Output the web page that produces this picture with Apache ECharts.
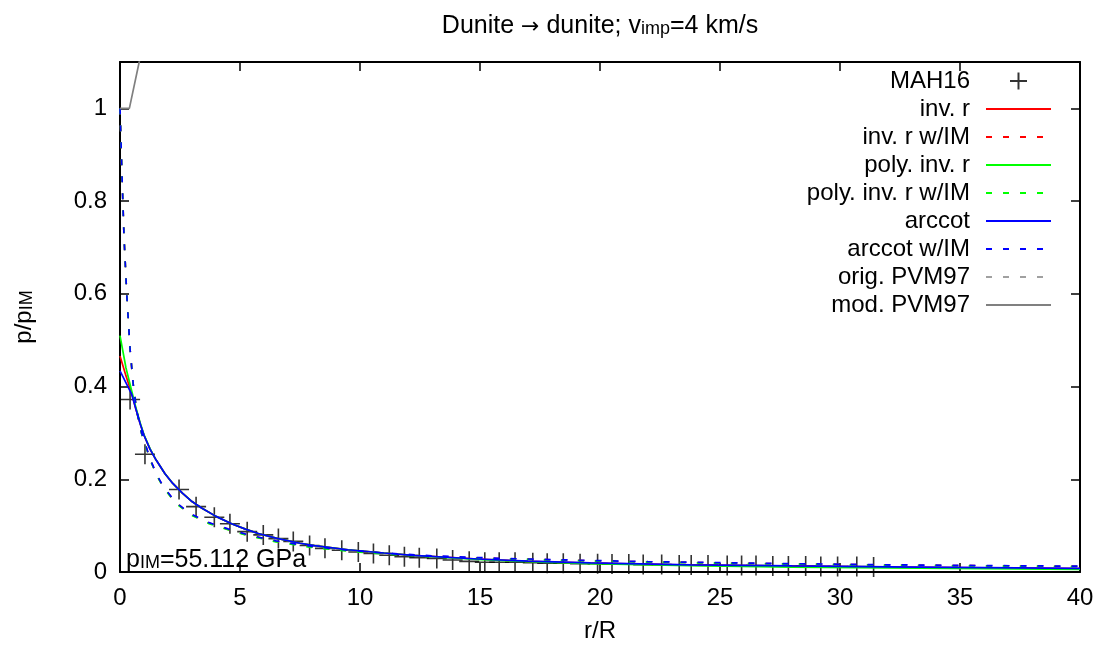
<!DOCTYPE html>
<html><head><meta charset="utf-8">
<script src="https://cdn.jsdelivr.net/npm/echarts@6/dist/echarts.min.js"></script>
<style>html,body{margin:0;padding:0;background:#fff}#c{width:1099px;height:648px}</style>
</head><body><div id="c"></div>
<script>
const FONT = '"Liberation Sans", Arial, Helvetica, sans-serif';

// ---- data ----
const xTickInterval = 5;
const yTickInterval = 0.2;

// MAH16 crosses
const mah16R = [0.42,1.04,2.46,3.17,3.93,4.58,5.3,5.97,6.6,7.22,7.9,8.54,9.24,9.93,10.56,11.22,11.85,12.47,13.2,13.86,14.55,15.2,15.8,16.46,17.2,17.8,18.47,19.17,19.9,20.5,21.2,21.8,22.57,23.3,23.8,24.5,25.3,25.9,26.5,27.2,27.85,28.57,29.2,29.9,30.7,31.4];
const mah16P = [0.372,0.254,0.178,0.141,0.118,0.104,0.087,0.080,0.072,0.066,0.057,0.051,0.047,0.043,0.040,0.036,0.033,0.031,0.029,0.026,0.023,0.021,0.021,0.021,0.020,0.019,0.019,0.018,0.018,0.017,0.017,0.016,0.016,0.015,0.015,0.015,0.014,0.014,0.014,0.013,0.013,0.013,0.012,0.012,0.012,0.011];

// solid fits (no impact match)
const solidR  = [0,0.25,0.49,0.67,0.85,1.0,1.25,1.5,1.875,2.2,2.6,3.0,3.4,4.0,4.65,5.2,5.76,6.5,7.5,8.1,9.5,11,12.2,14.9,17,19.6,23.75,28,32,36,40];
const invR    = [0.466,0.423,0.385,0.35,0.318,0.295,0.265,0.242,0.212,0.191,0.17,0.152,0.138,0.12,0.104,0.093,0.083,0.073,0.062,0.057,0.048,0.041,0.036,0.028,0.023,0.019,0.015,0.0125,0.0107,0.009,0.0073];
const polyInvR= [0.51,0.44,0.39,0.353,0.32,0.296,0.266,0.242,0.212,0.191,0.17,0.152,0.138,0.12,0.104,0.093,0.083,0.073,0.062,0.057,0.048,0.041,0.036,0.027,0.0225,0.018,0.0135,0.0105,0.0087,0.0071,0.0057];
const arccot  = [0.434,0.408,0.383,0.35,0.318,0.295,0.265,0.242,0.212,0.191,0.17,0.152,0.138,0.12,0.104,0.093,0.083,0.073,0.062,0.057,0.048,0.041,0.036,0.028,0.0235,0.0195,0.0155,0.013,0.0112,0.0095,0.0078];

// dashed fits (with impact match)
const imR = [0,0.03,0.08,0.17,0.28,0.35,0.42,0.56,0.69,0.9,1.18,1.32,1.55,1.8,2.29,2.92,3.68,4.5,5.35,6.5,8,9.5,11,13,15,16,19,22,24.4,28,32,36,40];
const invRIM    = [1.0,0.95,0.86,0.72,0.60,0.54,0.48,0.40,0.349,0.299,0.255,0.235,0.207,0.184,0.151,0.125,0.106,0.092,0.079,0.066,0.054,0.046,0.040,0.034,0.030,0.0288,0.025,0.0218,0.020,0.0175,0.015,0.0134,0.012];
const polyInvRIM= [1.0,0.95,0.86,0.72,0.60,0.54,0.48,0.40,0.348,0.298,0.254,0.234,0.206,0.183,0.150,0.124,0.105,0.091,0.078,0.065,0.053,0.045,0.039,0.033,0.029,0.0283,0.0245,0.0213,0.0195,0.017,0.0145,0.013,0.0115];
const arccotIM  = [1.0,0.95,0.86,0.72,0.60,0.54,0.48,0.40,0.35,0.30,0.256,0.236,0.208,0.185,0.152,0.126,0.107,0.093,0.080,0.067,0.055,0.047,0.041,0.035,0.031,0.0293,0.0255,0.0223,0.0205,0.018,0.0155,0.0139,0.0125];

// PVM97
const origPvmR = [];
const origPvmP = [];
const modPvmR = [0,0.39,0.8,1.2];
const modPvmP = [1,1,1.1,1.2];

// ---- chart ----
function pairs(xs, ys){ return xs.map((x,i)=>[x, ys[i]]); }
const DASH = [6, 11];

function lineSeries(name, xs, ys, color, dashed){
  return {
    name, type:'line', data: pairs(xs, ys), symbol:'none', showSymbol:false,
    smooth:false, clip:true,
    lineStyle:{color, width:1.7, type: dashed ? DASH : 'solid'},
    itemStyle:{color}, emphasis:{disabled:true}
  };
}

const axisLineStyle = {color:'#000', width:2};
const tickStyle = {color:'#000', width:1.5};
const labelStyle = {fontSize:24, color:'#000', fontFamily:FONT};
const legendNames = ['MAH16','inv. r','inv. r w/IM','poly. inv. r','poly. inv. r w/IM','arccot','arccot w/IM','orig. PVM97','mod. PVM97'];

const chart = echarts.init(document.getElementById('c'), null, {renderer:'canvas'});
chart.setOption({
  animation:false,
  backgroundColor:'#fff',
  grid:{left:120, right:19, top:62, bottom:71, containLabel:false},
  xAxis:[
    {type:'value', min:0, max:40, interval:xTickInterval, position:'bottom',
     axisLine:{show:true, onZero:false, lineStyle:axisLineStyle},
     axisTick:{show:true, inside:true, length:9, lineStyle:tickStyle},
     axisLabel:Object.assign({margin:14}, labelStyle),
     splitLine:{show:false},
     name:'r/R', nameLocation:'middle', nameGap:47,
     nameTextStyle:{fontSize:24, color:'#000', fontFamily:FONT}},
    {type:'value', min:0, max:40, interval:xTickInterval, position:'top',
     axisLine:{show:true, onZero:false, lineStyle:axisLineStyle},
     axisTick:{show:true, inside:true, length:9, lineStyle:tickStyle},
     axisLabel:{show:false}, splitLine:{show:false}}
  ],
  yAxis:[
    {type:'value', min:0, max:1.1, interval:yTickInterval, position:'left',
     axisLine:{show:true, onZero:false, lineStyle:axisLineStyle},
     axisTick:{show:true, inside:true, length:9, lineStyle:tickStyle},
     axisLabel:Object.assign({margin:13, showMaxLabel:false}, labelStyle),
     splitLine:{show:false},
     name:'{a|p/p}{s|IM}', nameLocation:'middle', nameGap:84,
     nameTextStyle:{fontSize:24, color:'#000', fontFamily:FONT,
       rich:{a:{fontSize:24, lineHeight:24, verticalAlign:'top', fontFamily:FONT, color:'#000'},
             s:{fontSize:18, lineHeight:12, verticalAlign:'bottom', fontFamily:FONT, color:'#000'}}}},
    {type:'value', min:0, max:1.1, interval:yTickInterval, position:'right',
     axisLine:{show:true, onZero:false, lineStyle:axisLineStyle},
     axisTick:{show:true, inside:true, length:9, lineStyle:tickStyle},
     axisLabel:{show:false}, splitLine:{show:false}}
  ],
  legend:{
    orient:'vertical', right:47, top:67, align:'right', padding:0,
    itemWidth:65, itemHeight:17, itemGap:0, selectedMode:false,
    textStyle:{fontSize:24, color:'#000', fontFamily:FONT, lineHeight:28, padding:[0,11,0,0]},
    data: legendNames.map((n, i) => i === 0 ? {name:n} : {name:n, itemStyle:{opacity:0}})
  },
  graphic:[
    {type:'text', x:600, y:26, silent:true,
     style:{text:'{a|Dunite }{r|→}{a| dunite; v}{s|imp}{a|=4 km/s}', align:'center', verticalAlign:'middle',
       rich:{a:{fontSize:25, lineHeight:25, verticalAlign:'top', fontFamily:FONT, fill:'#000'},
             r:{fontSize:22, lineHeight:14, verticalAlign:'bottom', fontFamily:'"DejaVu Sans"', fill:'#000'},
             s:{fontSize:18, lineHeight:12, verticalAlign:'bottom', fontFamily:FONT, fill:'#000'}}}},
    {type:'text', x:126, y:560, silent:true, z:100,
     style:{text:'{a|p}{s|IM}{a|=55.112 GPa}', align:'left', verticalAlign:'middle',
       rich:{a:{fontSize:25, lineHeight:25, verticalAlign:'top', fontFamily:FONT, fill:'#000'},
             s:{fontSize:18, lineHeight:12, verticalAlign:'bottom', fontFamily:FONT, fill:'#000'}}}}
  ],
  series:[
    {name:'MAH16', type:'scatter', data:pairs(mah16R, mah16P),
     symbol:'path://M0,10L20,10M10,0L10,20', symbolSize:20, symbolKeepAspect:true,
     itemStyle:{color:'#000', borderColor:'#000', borderWidth:1.6}, emphasis:{disabled:true}},
    lineSeries('inv. r', solidR, invR, '#ff0000', false),
    lineSeries('inv. r w/IM', imR, invRIM, '#ff0000', true),
    lineSeries('poly. inv. r', solidR, polyInvR, '#00ff00', false),
    lineSeries('poly. inv. r w/IM', imR, polyInvRIM, '#00ff00', true),
    lineSeries('arccot', solidR, arccot, '#0000ff', false),
    lineSeries('arccot w/IM', imR, arccotIM, '#0000ff', true),
    lineSeries('orig. PVM97', origPvmR, origPvmP, '#a0a0a0', true),
    lineSeries('mod. PVM97', modPvmR, modPvmP, '#808080', false)
  ]
});
</script>
</body></html>
